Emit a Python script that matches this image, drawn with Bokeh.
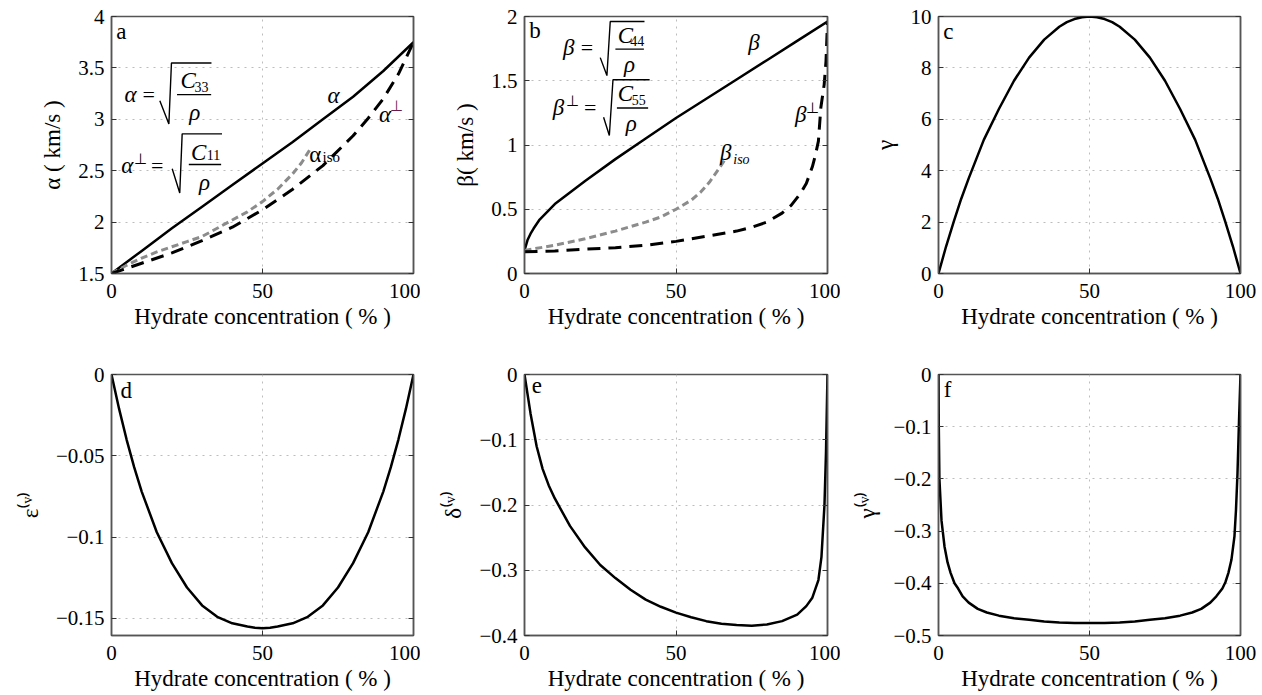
from bokeh.plotting import figure
from bokeh.layouts import column, row
from bokeh.models import (FixedTicker, LinearAxis, Label, CustomJSTickFormatter, Range1d)
from bokeh.embed import file_html
from bokeh.resources import INLINE

# ---------------- data ----------------
# panel a
a_alpha_x = [0, 10, 20, 30, 40, 50, 60, 70, 80, 90, 100]
a_alpha_y = [1.50, 1.72, 1.94, 2.15, 2.36, 2.57, 2.78, 3.00, 3.22, 3.47, 3.75]
a_iso_x = [0, 5, 10, 15, 20, 25, 30, 35, 40, 45, 50, 55, 60, 63, 66]
a_iso_y = [1.50, 1.58, 1.65, 1.71, 1.76, 1.81, 1.86, 1.94, 2.02, 2.10, 2.20, 2.32, 2.47, 2.58, 2.72]
a_perp_x = [0, 10, 20, 30, 40, 50, 60, 70, 80, 85, 90, 95, 100]
a_perp_y = [1.50, 1.60, 1.70, 1.82, 1.95, 2.12, 2.32, 2.55, 2.84, 3.01, 3.20, 3.44, 3.75]

# panel b
b_beta_x = [0, 1, 2, 3, 5, 7.5, 10, 15, 20, 30, 40, 50, 60, 70, 80, 90, 100]
b_beta_y = [0.18, 0.26, 0.31, 0.35, 0.42, 0.48, 0.54, 0.63, 0.72, 0.89, 1.05, 1.21, 1.36, 1.51,
            1.66, 1.81, 1.96]
b_iso_x = [0, 10, 20, 30, 40, 45, 50, 55, 58, 61, 64, 66]
b_iso_y = [0.18, 0.22, 0.27, 0.33, 0.40, 0.44, 0.50, 0.57, 0.63, 0.71, 0.81, 0.88]
b_perp_x = [0, 10, 20, 30, 40, 50, 60, 70, 75, 80, 85, 88, 91, 93, 95, 96, 97, 97.8, 98.9, 99.5, 100]
b_perp_y = [0.17, 0.175, 0.19, 0.20, 0.22, 0.25, 0.29, 0.33, 0.36, 0.40, 0.47, 0.53, 0.62, 0.70,
            0.83, 0.92, 1.03, 1.29, 1.47, 1.65, 1.96]

# panel c
c_x = [0, 2.5, 5, 7.5, 10, 15, 20, 25, 30, 35, 40, 42.5, 45, 47.5, 50, 52.5, 55, 57.5, 60, 65, 70,
       75, 80, 85, 90, 92.5, 95, 97.5, 100]
c_gamma = [0, 1.05, 2.0, 2.9, 3.7, 5.2, 6.4, 7.5, 8.4, 9.1, 9.6, 9.78, 9.9, 9.97, 10.0, 9.97, 9.9,
           9.78, 9.6, 9.1, 8.4, 7.5, 6.4, 5.2, 3.7, 2.9, 2.0, 1.05, 0]

# panel d
d_x = [0, 2.5, 5, 7.5, 10, 15, 20, 25, 30, 35, 40, 45, 47.5, 50, 52.5, 55, 60, 65, 70, 75, 80, 85,
       90, 92.5, 95, 97.5, 100]
d_eps = [0, -0.021, -0.040, -0.057, -0.072, -0.097, -0.116, -0.131, -0.142, -0.149, -0.153,
         -0.155, -0.1557, -0.156, -0.1557, -0.155, -0.153, -0.149, -0.142, -0.131, -0.116, -0.097,
         -0.072, -0.057, -0.040, -0.021, 0]

# panel e
e_x = [0, 2, 4, 6, 8, 10, 15, 20, 25, 30, 35, 40, 45, 50, 55, 60, 65, 70, 75, 80, 85, 90, 93,
       95, 97, 98, 99, 99.5, 100]
e_delta = [0, -0.06, -0.11, -0.145, -0.17, -0.19, -0.232, -0.265, -0.292, -0.312, -0.33, -0.345,
           -0.356, -0.365, -0.372, -0.378, -0.382, -0.384, -0.385, -0.383, -0.378, -0.368, -0.355,
           -0.342, -0.315, -0.28, -0.20, -0.12, 0]

# panel f
f_x = [0, 0.1, 0.3, 1, 1.4, 2, 3, 4, 5.3, 6.5, 8, 10, 13, 16, 20, 25, 30, 35, 40, 45, 50, 55, 60,
       65, 70, 75, 80, 84, 87, 90, 92, 94, 95, 96, 97, 98, 98.5, 99, 99.5, 100]
f_gamma = [0, -0.10, -0.20, -0.28, -0.30, -0.33, -0.36, -0.38, -0.40, -0.41, -0.425, -0.437,
           -0.449, -0.456, -0.462, -0.467, -0.470, -0.473, -0.475, -0.476, -0.476, -0.476, -0.475,
           -0.473, -0.470, -0.467, -0.462, -0.456, -0.449, -0.437, -0.425, -0.41, -0.398, -0.38,
           -0.355, -0.31, -0.26, -0.19, -0.09, 0]

x_ticks = [0, 50, 100]
a_yticks = [1.5, 2, 2.5, 3, 3.5, 4]
b_yticks = [0, 0.5, 1, 1.5, 2]
c_yticks = [0, 2, 4, 6, 8, 10]
d_yticks = [0, -0.05, -0.1, -0.15]
e_yticks = [0, -0.1, -0.2, -0.3, -0.4]
f_yticks = [0, -0.1, -0.2, -0.3, -0.4, -0.5]

XLABEL = "Hydrate concentration ( % )"
SERIF = "'Liberation Serif', 'Times New Roman', serif"
FRAME = "#555555"
GRAY = "#8c8c8c"

fmt = CustomJSTickFormatter(code="""
const t = Math.round(tick*1000)/1000;
return t < 0 ? "\\u2212" + String(-t) : String(t);
""")
blank = CustomJSTickFormatter(code='return "";')


def make_fig(yr, yticks, ylabel, fw, fh, left, right, top, bottom):
    p = figure(frame_width=fw, frame_height=fh, x_range=Range1d(0, 100), y_range=Range1d(*yr),
               output_backend="svg", toolbar_location=None,
               min_border_left=left, min_border_right=right,
               min_border_top=top, min_border_bottom=bottom,
               background_fill_color="white", border_fill_color="white")
    p.outline_line_color = FRAME
    p.outline_line_width = 1.5
    p.xaxis.ticker = FixedTicker(ticks=x_ticks)
    p.yaxis.ticker = FixedTicker(ticks=yticks)
    p.yaxis.formatter = fmt
    p.xaxis.axis_label = XLABEL
    p.yaxis.axis_label = ylabel
    for ax in (p.xaxis[0], p.yaxis[0]):
        ax.axis_line_color = FRAME
        ax.axis_line_width = 1.5
        ax.major_tick_in = 5
        ax.major_tick_out = 0
        ax.major_tick_line_color = "#333333"
        ax.minor_tick_line_color = None
        ax.major_label_text_font = SERIF
        ax.major_label_text_font_size = "21px"
        ax.major_label_text_color = "black"
        ax.axis_label_text_font = SERIF
        ax.axis_label_text_font_size = "23px"
        ax.axis_label_text_font_style = "normal"
        ax.axis_label_text_color = "black"
    p.xaxis.major_label_standoff = 10
    p.xaxis.axis_label_standoff = 3
    p.yaxis.major_label_standoff = 7
    p.yaxis.axis_label_standoff = 10
    rax = LinearAxis(ticker=FixedTicker(ticks=yticks), formatter=blank,
                     major_label_text_font_size="10px",
                     major_tick_in=5, major_tick_out=0, minor_tick_line_color=None,
                     axis_line_color=FRAME, axis_line_width=1.5, major_label_standoff=0,
                     major_tick_line_color="#333333")
    p.add_layout(rax, "right")
    for g in (p.xgrid[0], p.ygrid[0]):
        g.grid_line_color = "#bdbdbd"
        g.grid_line_dash = "2 5"
        g.grid_line_width = 1
    p.xgrid.ticker = FixedTicker(ticks=x_ticks)
    p.ygrid.ticker = FixedTicker(ticks=yticks)
    return p


def lab(p, x, y, text, size=20, italic=False, align="center", baseline="middle", color="black"):
    p.add_layout(Label(x=x, y=y, text=text, text_font=SERIF, text_font_size=f"{size}px",
                       text_font_style="italic" if italic else "normal", text_align=align,
                       text_baseline=baseline, text_color=color))


def formula(p, lhs, sup, numer, sub, f):
    # f holds positions of the pieces (annotation layout)
    lab(p, f["lhs"][0], f["lhs"][1], lhs, 23, True)
    if sup:
        lab(p, f["sup"][0], f["sup"][1], sup, 15)
    lab(p, f["eq"][0], f["lhs"][1], "=", 22)
    rx, ry = f["rad"]
    p.line(rx, ry, line_color="black", line_width=1.4)
    bx, by = f["bar"]
    p.line(bx, [by, by], line_color="black", line_width=1.4)
    lab(p, f["C"][0], f["C"][1], numer, 23, True)
    lab(p, f["sub"][0], f["sub"][1], sub, 14)
    lab(p, f["rho"][0], f["rho"][1], "ρ", 23, True)


# ---------------- panel a ----------------
pa = make_fig((1.5, 4), a_yticks, "α ( km/s )", 302, 257, 111, 7, 16, 67)
pa.line(a_alpha_x, a_alpha_y, line_color="black", line_width=2.5)
pa.line(a_iso_x, a_iso_y, line_color=GRAY, line_width=3, line_dash="7 4")
pa.line(a_perp_x, a_perp_y, line_color="black", line_width=3, line_dash="13 8")
lab(pa, 1.6, 3.98, "a", 23, align="left", baseline="top")
formula(pa, "α", None, "C", "33",
        dict(lhs=(6.3, 3.237), eq=(12.3, 0), rad=([16.0, 19.0, 19.85, 33.1], [3.18, 2.955, 3.547, 3.547]),
             bar=([21.7, 33.0], 3.24), C=(25.4, 3.376), sub=(29.8, 3.318), rho=(27.6, 3.07)))
formula(pa, "α", "⊥", "C", "11",
        dict(lhs=(5.2, 2.55), sup=(9.6, 2.616), eq=(15.1, 0),
             rad=([20.1, 22.6, 23.4, 36.6], [2.519, 2.283, 2.858, 2.858]),
             bar=([25.6, 36.3], 2.561), C=(28.9, 2.68), sub=(33.8, 2.648), rho=(30.8, 2.39)))
lab(pa, 73.5, 3.23, "α", 23, True)
lab(pa, 67.5, 2.66, "α", 23)
lab(pa, 72.8, 2.635, "iso", 15)
lab(pa, 90.6, 3.05, "α", 23, True)
lab(pa, 94.4, 3.13, "⊥", 15, color="#6a1b4d")

# ---------------- panel b ----------------
pb = make_fig((0, 2), b_yticks, "β( km/s )", 303, 257, 104, 13, 16, 67)
pb.line(b_beta_x, b_beta_y, line_color="black", line_width=2.5)
pb.line(b_iso_x, b_iso_y, line_color=GRAY, line_width=3, line_dash="7 4")
pb.line(b_perp_x, b_perp_y, line_color="black", line_width=3, line_dash="13 8")
lab(pb, 1.6, 1.985, "b", 23, align="left", baseline="top")
formula(pb, "β", None, "C", "44",
        dict(lhs=(14.6, 1.759), eq=(20.6, 0), rad=([25.0, 27.2, 28.3, 39.6], [1.68, 1.54, 1.961, 1.961]),
             bar=([30.0, 39.4], 1.746), C=(33.3, 1.85), sub=(37.2, 1.806), rho=(34.7, 1.63)))
formula(pb, "β", "⊥", "C", "55",
        dict(lhs=(11.2, 1.294), sup=(15.7, 1.345), eq=(21.7, 0),
             rad=([26.1, 28.0, 29.2, 41.3], [1.216, 1.074, 1.508, 1.508]),
             bar=([30.5, 40.8], 1.288), C=(33.3, 1.397), sub=(37.7, 1.351), rho=(35.2, 1.164)))
lab(pb, 75.7, 1.80, "β", 23, True)
lab(pb, 91.2, 1.24, "β", 23, True)
lab(pb, 95.2, 1.29, "⊥", 15)
lab(pb, 66.4, 0.94, "β", 23, True)
lab(pb, 71.6, 0.89, "iso", 14, True)

# ---------------- panel c ----------------
pc = make_fig((0, 10), c_yticks, "γ", 302, 257, 98, 22, 16, 67)
pc.line(c_x, c_gamma, line_color="black", line_width=2.5)
lab(pc, 1.6, 9.92, "c", 23, align="left", baseline="top")

# ---------------- panel d ----------------
pd_ = make_fig((-0.1605, 0), d_yticks, "ε⁽ᵛ⁾", 302, 261, 111, 7, 34, 60)
pd_.line(d_x, d_eps, line_color="black", line_width=2.5)
lab(pd_, 3.0, -0.002, "d", 23, align="left", baseline="top")

# ---------------- panel e ----------------
pe = make_fig((-0.4, 0), e_yticks, "δ⁽ᵛ⁾", 303, 261, 104, 13, 34, 60)
pe.line(e_x, e_delta, line_color="black", line_width=2.5)
lab(pe, 2.4, -0.006, "e", 23, align="left", baseline="top")

# ---------------- panel f ----------------
pf = make_fig((-0.5, 0), f_yticks, "γ⁽ᵛ⁾", 302, 261, 98, 22, 34, 60)
pf.line(f_x, f_gamma, line_color="black", line_width=2.5)
lab(pf, 1.7, -0.004, "f", 23, align="left", baseline="top")

layout = column(row(pa, pb, pc), row(pd_, pe, pf))
open("out.html", "w").write(file_html(layout, INLINE))
